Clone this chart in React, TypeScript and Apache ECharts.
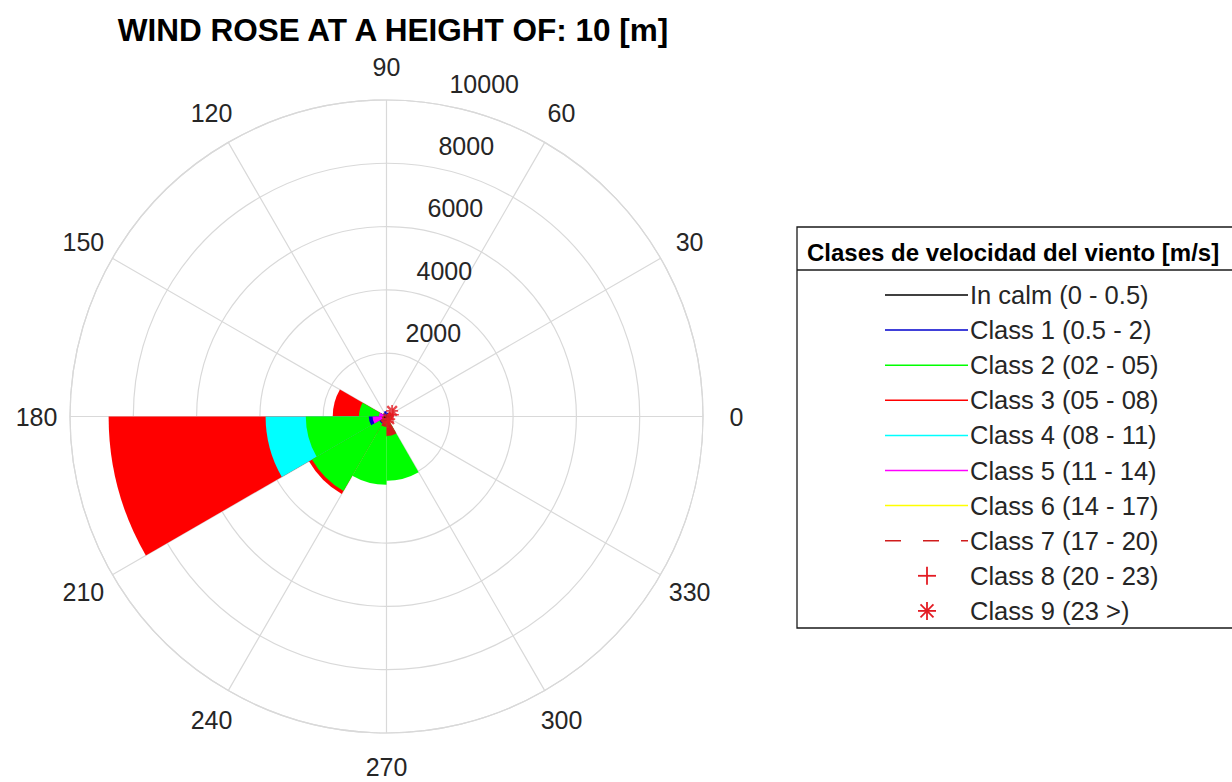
import { useEffect, useRef } from 'react';
import * as echarts from 'echarts';

// ---------- data ----------
const directionBins = ['0-30', '30-60', '60-90', '90-120', '120-150', '150-180', '180-210', '210-240', '240-270', '270-300', '300-330', '330-360'];

const classNames = [
  'In calm (0 - 0.5)',
  'Class 1 (0.5 - 2)',
  'Class 2 (02 - 05)',
  'Class 3 (05 - 08)',
  'Class 4 (08 - 11)',
  'Class 5 (11 - 14)',
  'Class 6 (14 - 17)',
  'Class 7 (17 - 20)',
  'Class 8 (20 - 23)',
  'Class 9 (23 >)',
];

const calmValues = [70, 40, 30, 40, 30, 40, 90, 50, 40, 40, 40, 80];
const class1Values = [120, 110, 130, 170, 110, 200, 560, 260, 160, 150, 100, 110];
const class2Values = [140, 90, 70, 80, 110, 870, 2550, 2720, 2160, 2030, 160, 140];
const class3Values = [230, 180, 90, 90, 140, 1700, 8780, 2830, 640, 560, 180, 200];
const class4Values = [30, 20, 10, 10, 20, 160, 3820, 320, 70, 60, 20, 20];
const class5Values = [20, 20, 10, 10, 20, 240, 440, 180, 40, 30, 10, 10];
const class6Values = [10, 10, 0, 0, 10, 60, 120, 50, 20, 20, 10, 10];
const class7Values = [160, 120, 30, 30, 40, 100, 150, 230, 330, 620, 180, 120];
const class8Values = [210, 0, 0, 0, 0, 0, 0, 0, 0, 180, 0, 0];
const class9Values = [0, 250, 0, 0, 0, 0, 0, 0, 0, 0, 120, 0];

const angleTickStep = 30;
const radiusMax = 10000;
const radiusTickStep = 2000;

const titleText = 'WIND ROSE AT A HEIGHT OF: 10 [m]';
const legendTitle = 'Clases de velocidad del viento [m/s]';

const classColors = ['#000000', '#0000cd', '#00ff00', '#ff0000', '#00ffff', '#ff00ff', '#ffff00', '#d01c1c', '#e31b23', '#e31b23'];
const legendMarks = ['line', 'line', 'line', 'line', 'line', 'line', 'line', 'dash', 'plus', 'star'];

const PLUS_PATH = 'path://M4.3,0 L5.7,0 L5.7,4.3 L10,4.3 L10,5.7 L5.7,5.7 L5.7,10 L4.3,10 L4.3,5.7 L0,5.7 L0,4.3 L4.3,4.3 Z';
const STAR_PATH = 'path://M4.3,0 L5.7,0 L5.7,10 L4.3,10 Z M0,4.3 L10,4.3 L10,5.7 L0,5.7 Z M0.3,1.7 L1.7,0.3 L9.7,8.3 L8.3,9.7 Z M8.3,0.3 L9.7,1.7 L1.7,9.7 L0.3,8.3 Z';

export default function App() {
  const ref = useRef<HTMLDivElement>(null);

  useEffect(() => {
    if (!ref.current) return;
    const chart = echarts.init(ref.current, null, { renderer: 'svg' });

    const FONT = '"Liberation Sans", Arial, Helvetica, sans-serif';
    const CX = 386.5;
    const CY = 416.5;
    const R = 316.5;
    const GRID = '#d9d9d9';
    const TEXT = '#262626';
    const AXIS_FONT = 25;

    // angle labels: MATLAB centres each label on a circle; emulate with per-label padding
    const LABEL_MARGIN = -16.5;
    const LABEL_RADIUS = 350;
    const anchor = R + LABEL_MARGIN;
    const angleRich: any = {};
    for (let deg = 0; deg < 360; deg += angleTickStep) {
      const th = (deg * Math.PI) / 180;
      const c = Math.cos(th);
      const s = Math.sin(th);
      const w = String(deg).length * 0.556 * AXIS_FONT;
      const h = AXIS_FONT;
      const px = anchor * c;
      const py = anchor * s;
      const hAlign = Math.abs(px) / R < 0.3 ? 'center' : px > 0 ? 'left' : 'right';
      const vAlign = Math.abs(py) / R < 0.3 ? 'middle' : py > 0 ? 'bottom' : 'top';
      const x0 = hAlign === 'left' ? px + w / 2 : hAlign === 'right' ? px - w / 2 : px;
      const y0 = vAlign === 'bottom' ? py + h / 2 : vAlign === 'top' ? py - h / 2 : py;
      const dx = LABEL_RADIUS * c - x0;
      const dy = LABEL_RADIUS * s - y0;
      let pt = 0, pr = 0, pb = 0, pl = 0;
      if (hAlign === 'left') pl = Math.max(0, dx);
      else if (hAlign === 'right') pr = Math.max(0, -dx);
      else if (dx > 0) pl = 2 * dx;
      else pr = -2 * dx;
      if (vAlign === 'bottom') pb = Math.max(0, dy);
      else if (vAlign === 'top') pt = Math.max(0, -dy);
      else if (dy > 0) pb = 2 * dy;
      else pt = -2 * dy;
      angleRich['a' + deg] = {
        fontSize: AXIS_FONT,
        fontFamily: FONT,
        color: TEXT,
        padding: [pt, pr, pb, pl],
      };
    }

    // draw order: larger classes underneath, smaller on top
    const barOrder = [3, 4, 2, 1, 5, 6, 7, 0];
    const valuesByClass = [calmValues, class1Values, class2Values, class3Values, class4Values, class5Values, class6Values, class7Values, class8Values, class9Values];

    const barSeries = barOrder.map((ci, k) => ({
      type: 'bar',
      name: classNames[ci],
      coordinateSystem: 'polar',
      polarIndex: 1,
      data: valuesByClass[ci],
      barGap: '-100%',
      barCategoryGap: '0%',
      silent: true,
      z: 2 + k,
      itemStyle: { color: classColors[ci], borderWidth: 0 },
    }));

    const markerSeries = [8, 9].map((ci, k) => ({
      type: 'scatter',
      name: classNames[ci],
      coordinateSystem: 'polar',
      polarIndex: 1,
      symbol: ci === 8 ? PLUS_PATH : STAR_PATH,
      symbolSize: 12,
      silent: true,
      z: 20 + k,
      itemStyle: { color: classColors[ci] },
      data: valuesByClass[ci]
        .map((v, i) => (v > 0 ? [v, directionBins[i]] : null))
        .filter((d) => d !== null),
    }));

    // legend box drawn with graphic elements
    const LEG = { left: 797, top: 227, right: 1240, bottom: 628, headerX: 807, headerY: 252, sepY: 270, row0: 295, rowGap: 35.1, lineX1: 885, lineX2: 968, textX: 970, markX: 927, mark: 9 };
    const legendEls: any[] = [
      {
        type: 'rect',
        shape: { x: LEG.left, y: LEG.top, width: LEG.right - LEG.left, height: LEG.bottom - LEG.top },
        style: { fill: '#ffffff', stroke: '#1a1a1a', lineWidth: 1.3 },
        z: 50,
      },
      {
        type: 'text',
        x: LEG.headerX,
        y: LEG.headerY,
        z: 51,
        style: { text: legendTitle, font: `bold 24px ${FONT}`, fill: '#000000', align: 'left', verticalAlign: 'middle' },
      },
      {
        type: 'line',
        shape: { x1: LEG.left, y1: LEG.sepY, x2: LEG.right, y2: LEG.sepY },
        style: { stroke: '#1a1a1a', lineWidth: 1.3 },
        z: 51,
      },
    ];
    classNames.forEach((name, i) => {
      const y = LEG.row0 + LEG.rowGap * i;
      const color = classColors[i];
      const kind = legendMarks[i];
      if (kind === 'line' || kind === 'dash') {
        legendEls.push({
          type: 'line',
          z: 51,
          shape: { x1: LEG.lineX1, y1: y, x2: LEG.lineX2, y2: y },
          style: { stroke: color, lineWidth: 1.5, lineDash: kind === 'dash' ? [16, 22] : null },
        });
      } else {
        const m = LEG.mark;
        legendEls.push({
          type: 'line', z: 51,
          shape: { x1: LEG.markX - m, y1: y, x2: LEG.markX + m, y2: y },
          style: { stroke: color, lineWidth: 1.8 },
        });
        legendEls.push({
          type: 'line', z: 51,
          shape: { x1: LEG.markX, y1: y - m, x2: LEG.markX, y2: y + m },
          style: { stroke: color, lineWidth: 1.8 },
        });
        if (kind === 'star') {
          const d = m * 0.72;
          legendEls.push({
            type: 'line', z: 51,
            shape: { x1: LEG.markX - d, y1: y - d, x2: LEG.markX + d, y2: y + d },
            style: { stroke: color, lineWidth: 1.8 },
          });
          legendEls.push({
            type: 'line', z: 51,
            shape: { x1: LEG.markX - d, y1: y + d, x2: LEG.markX + d, y2: y - d },
            style: { stroke: color, lineWidth: 1.8 },
          });
        }
      }
      legendEls.push({
        type: 'text',
        x: LEG.textX,
        y,
        z: 51,
        style: { text: name, font: `25.5px ${FONT}`, fill: TEXT, align: 'left', verticalAlign: 'middle' },
      });
    });

    const option: any = {
      animation: false,
      backgroundColor: '#ffffff',
      polar: [
        { center: [CX, CY], radius: R },
        { center: [CX, CY], radius: R },
        { center: [CX + 8, CY - 21], radius: R },
      ],
      angleAxis: [
        {
          polarIndex: 0,
          type: 'value',
          min: 0,
          max: 360,
          interval: angleTickStep,
          startAngle: 0,
          clockwise: false,
          axisLine: { show: true, lineStyle: { color: GRID, width: 1.2 } },
          axisTick: { show: false },
          splitLine: { show: true, lineStyle: { color: GRID, width: 1.2 } },
          axisLabel: {
            show: true,
            margin: LABEL_MARGIN,
            color: TEXT,
            fontSize: AXIS_FONT,
            fontFamily: FONT,
            formatter: (v: number) => (v >= 360 ? '' : `{a${v}|${v}}`),
            rich: angleRich,
          },
          z: 0,
        },
        {
          polarIndex: 1,
          type: 'category',
          data: directionBins,
          startAngle: 0,
          clockwise: false,
          boundaryGap: true,
          axisLine: { show: false },
          axisTick: { show: false },
          axisLabel: { show: false },
          splitLine: { show: false },
        },
        {
          polarIndex: 2,
          type: 'value',
          min: 0,
          max: 360,
          startAngle: 80,
          clockwise: false,
          show: false,
          axisLine: { show: false },
          axisTick: { show: false },
          axisLabel: { show: false },
          splitLine: { show: false },
        },
      ],
      radiusAxis: [
        {
          polarIndex: 0,
          type: 'value',
          min: 0,
          max: radiusMax,
          interval: radiusTickStep,
          axisLine: { show: false },
          axisTick: { show: false },
          axisLabel: { show: false },
          splitLine: { show: true, lineStyle: { color: GRID, width: 1.2 } },
          z: 0,
        },
        {
          polarIndex: 1,
          type: 'value',
          min: 0,
          max: radiusMax,
          show: false,
          axisLine: { show: false },
          axisTick: { show: false },
          axisLabel: { show: false },
          splitLine: { show: false },
        },
        {
          polarIndex: 2,
          type: 'value',
          min: 0,
          max: radiusMax,
          interval: radiusTickStep,
          axisLine: { show: false },
          axisTick: { show: false },
          splitLine: { show: false },
          axisLabel: {
            show: true,
            margin: 0,
            align: 'left',
            verticalAlign: 'middle',
            rotate: 0,
            color: TEXT,
            fontSize: AXIS_FONT,
            fontFamily: FONT,
            formatter: (v: number) => (v === 0 ? '' : String(v)),
          },
          z: 5,
        },
      ],
      series: [...barSeries, ...markerSeries],
      graphic: [
        {
          type: 'text',
          x: 393,
          y: 30,
          z: 60,
          style: { text: titleText, font: `bold 31.5px ${FONT}`, fill: '#000000', align: 'center', verticalAlign: 'middle' },
        },
        ...legendEls,
      ],
    };

    chart.setOption(option);
    return () => {
      chart.dispose();
    };
  }, []);

  return (
    <div
      ref={ref}
      style={{ position: 'fixed', left: 0, top: 0, width: 1232, height: 782, background: '#ffffff' }}
    />
  );
}
